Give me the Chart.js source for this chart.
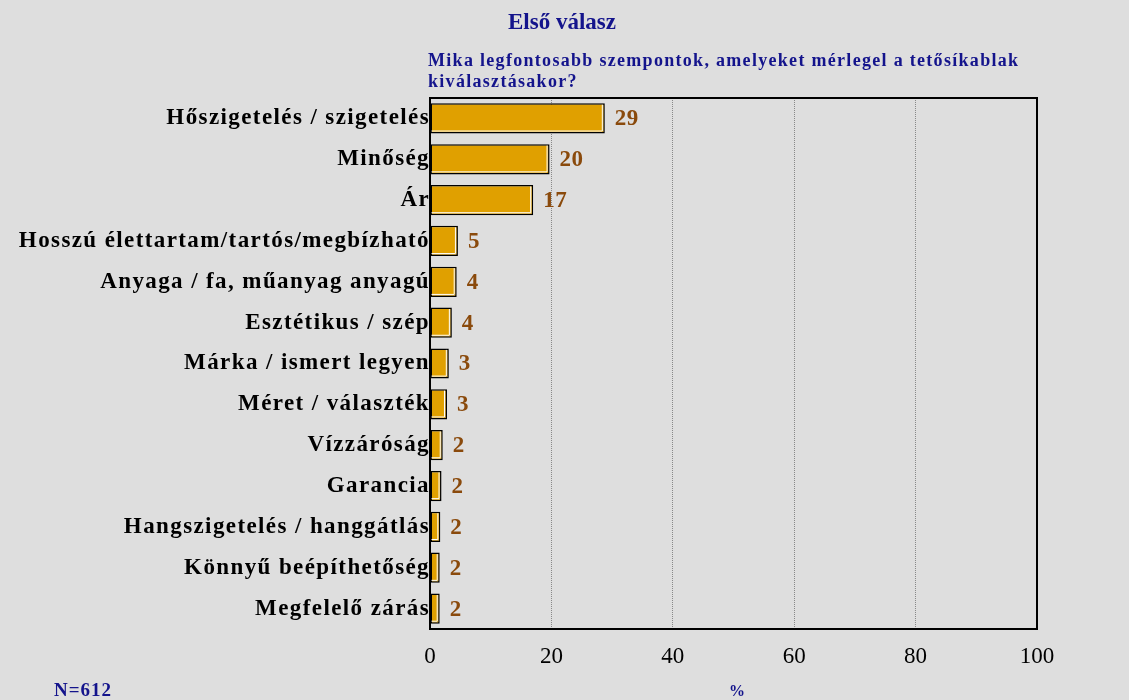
<!DOCTYPE html>
<html>
<head>
<meta charset="utf-8">
<script src="https://cdn.jsdelivr.net/npm/chart.js@4/dist/chart.umd.min.js"></script>
<style>
  html, body { margin: 0; padding: 0; background: #dedede; }
  #wrap { width: 1129px; height: 700px; position: relative; }
</style>
</head>
<body>
<div id="wrap"><canvas id="chart"></canvas></div>
<script>
// Adatok
const kategoriak = [
  'Hőszigetelés / szigetelés',
  'Minőség',
  'Ár',
  'Hosszú élettartam/tartós/megbízható',
  'Anyaga / fa, műanyag anyagú',
  'Esztétikus / szép',
  'Márka / ismert legyen',
  'Méret / választék',
  'Vízzáróság',
  'Garancia',
  'Hangszigetelés / hanggátlás',
  'Könnyű beépíthetőség',
  'Megfelelő zárás'
];
const ertekek = [28.8, 19.7, 17.0, 4.6, 4.4, 3.6, 3.1, 2.8, 2.1, 1.9, 1.7, 1.6, 1.6];
const cimkek = ['29', '20', '17', '5', '4', '4', '3', '3', '2', '2', '2', '2', '2'];
const xTicks = [0, 20, 40, 60, 80, 100];

const cim = 'Első válasz';
const kerdes = ['Mika legfontosabb szempontok, amelyeket mérlegel a tetősíkablak', 'kiválasztásakor?'];
const mintaszam = 'N=612';
const egyseg = '%';

const NAVY = '#14148c';
const SERIF = '"Liberation Serif", "Times New Roman", serif';

const keretPlugin = {
  id: 'keret',
  afterLayout(chart) {
    // betűköz a kategória-feliratokhoz
    const y = chart.scales.y;
    if (y._patched) return;
    const orig = y.drawLabels.bind(y);
    y.drawLabels = function (area) {
      const ctx = chart.ctx;
      ctx.save();
      ctx.letterSpacing = '1.4px';
      orig(area);
      ctx.restore();
    };
    y._patched = true;
  },
  afterDatasetsDraw(chart) {
    const ctx = chart.ctx;
    const meta = chart.getDatasetMeta(0);
    // fehér belső szegély a hasábokon
    ctx.save();
    ctx.strokeStyle = '#ffffff';
    ctx.lineWidth = 1;
    meta.data.forEach(bar => {
      const top = bar.y - bar.height / 2;
      const bottom = bar.y + bar.height / 2;
      ctx.beginPath();
      ctx.moveTo(bar.base + 1, bottom - 2.5);
      ctx.lineTo(bar.x - 2.5, bottom - 2.5);
      ctx.lineTo(bar.x - 2.5, top + 1.5);
      ctx.stroke();
    });
    // értékcímkék
    ctx.fillStyle = '#8a4a0c';
    ctx.font = 'bold 23px ' + SERIF;
    ctx.letterSpacing = '0.5px';
    ctx.textAlign = 'left';
    ctx.textBaseline = 'middle';
    meta.data.forEach((bar, i) => {
      ctx.fillText(cimkek[i], bar.x + 10, bar.y + 1);
    });
    ctx.letterSpacing = '0px';
    // keret
    const a = chart.chartArea;
    ctx.strokeStyle = '#000';
    ctx.lineWidth = 2;
    ctx.strokeRect(a.left, a.top, a.right - a.left, a.bottom - a.top);
    ctx.restore();
  },
  afterDraw(chart) {
    const ctx = chart.ctx;
    ctx.save();
    ctx.fillStyle = NAVY;
    ctx.textBaseline = 'alphabetic';
    ctx.textAlign = 'left';
    ctx.font = 'bold 23px ' + SERIF;
    ctx.fillText(cim, 508, 29);
    ctx.font = 'bold 18px ' + SERIF;
    ctx.letterSpacing = '1.3px';
    ctx.fillText(kerdes[0], 428, 66);
    ctx.fillText(kerdes[1], 428, 87);
    ctx.font = 'bold 19px ' + SERIF;
    ctx.letterSpacing = '1px';
    ctx.fillText(mintaszam, 54, 696);
    ctx.font = 'bold 16px ' + SERIF;
    ctx.fillText(egyseg, 729, 696);
    ctx.restore();
  }
};

new Chart(document.getElementById('chart'), {
  type: 'bar',
  data: {
    labels: kategoriak,
    datasets: [{
      data: ertekek,
      backgroundColor: '#e0a000',
      borderColor: '#000000',
      borderWidth: 1.5,
      borderSkipped: false,
      barPercentage: 0.74,
      categoryPercentage: 1
    }]
  },
  options: {
    indexAxis: 'y',
    responsive: true,
    maintainAspectRatio: false,
    animation: false,
    layout: { padding: { top: 98, right: 92, left: 0, bottom: 0 } },
    plugins: {
      legend: { display: false },
      tooltip: { enabled: false }
    },
    scales: {
      x: {
        min: 0,
        max: 100,
        afterBuildTicks: s => { s.ticks = xTicks.map(v => ({ value: v })); },
        afterFit: s => { s.height = 71; },
        grid: {
          drawTicks: false,
          color: c => (c.tick && (c.tick.value === 0 || c.tick.value === 100)) ? 'rgba(0,0,0,0)' : '#888888'
        },
        border: { display: false, dash: [1, 1] },
        ticks: {
          color: '#000',
          padding: 14,
          font: { family: SERIF, size: 23 }
        }
      },
      y: {
        afterFit: s => { s.width = 430; },
        grid: { display: false, drawTicks: false },
        border: { display: false },
        ticks: {
          color: '#000',
          padding: 0,
          font: { family: SERIF, size: 23, weight: 'bold' }
        }
      }
    }
  },
  plugins: [keretPlugin]
});
</script>
</body>
</html>
